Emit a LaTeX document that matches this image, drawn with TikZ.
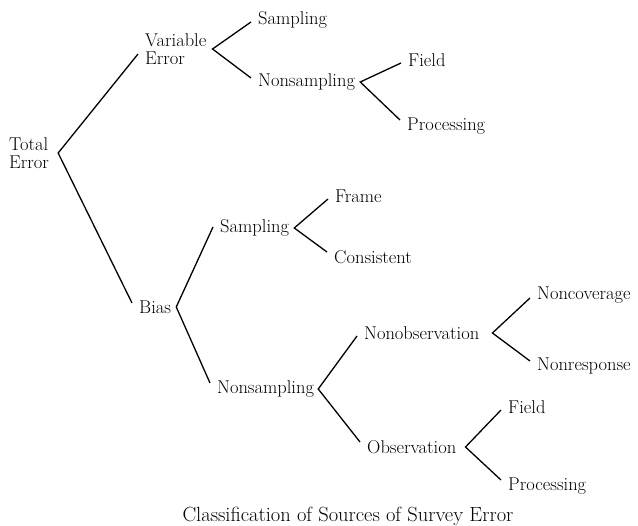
\documentclass[tikz,border=0pt]{standalone}
\begin{document}
\begin{tikzpicture}[x=1pt,y=-1pt,
  lbl/.style={anchor=west,inner sep=0pt,font=\fontsize{18.5}{18}\selectfont},
  br/.style={line width=1.3pt},
  vx/.style={xshift=#1},
  vx/.default=5pt,
  en/.style={xshift=-7pt,yshift=#1}]
\useasboundingbox (0,0) rectangle (638,526);
\node[lbl,align=left] (tot) at (9,153) {Total\\Error};
\node[lbl,align=left] (var) at (145,49) {Variable\\Error};
\node[lbl] (vs) at (258,20) {Sampling};
\node[lbl] (vn) at (258,82) {Nonsampling};
\node[lbl] (vnf) at (408,60) {Field};
\node[lbl] (vnp) at (407,126) {Processing};
\node[lbl] (bias) at (139,307) {Bias};
\node[lbl] (bs) at (220,228) {Sampling};
\node[lbl] (bsf) at (335,196) {Frame};
\node[lbl] (bsc) at (334,257) {Consistent};
\node[lbl] (bn) at (217,389) {Nonsampling};
\node[lbl] (bno) at (364,333) {Nonobservation};
\node[lbl] (cov) at (537,295) {Noncoverage};
\node[lbl] (resp) at (537,366) {Nonresponse};
\node[lbl] (bo) at (367,447) {Observation};
\node[lbl] (bof) at (508,407) {Field};
\node[lbl] (bop) at (508,486) {Processing};
\node[inner sep=0pt,font=\fontsize{20.5}{22}\selectfont] (cap) at (348,516) {Classification of Sources of Survey Error};
\draw[br] ([en=-5pt]var.west) -- ([vx=9pt]tot.east) -- ([en=4pt]bias.west);
\draw[br] ([en=-2pt]vs.west) -- ([vx=6pt]var.east) -- ([en=4pt]vn.west);
\draw[br] ([en=-3pt]vnf.west) -- ([vx]vn.east) -- ([en=6pt]vnp.west);
\draw[br] ([en=1pt]bs.west) -- ([vx]bias.east) -- ([en=6pt]bn.west);
\draw[br] ([en=-3pt]bsf.west) -- ([vx]bs.east) -- ([en=5pt]bsc.west);
\draw[br] ([en=-3pt]bno.west) -- ([vx=4pt]bn.east) -- ([en=5pt]bo.west);
\draw[br] ([en=-3pt]cov.west) -- ([vx=13pt]bno.east) -- ([en=5pt]resp.west);
\draw[br] ([en=-3pt]bof.west) -- ([vx=9pt]bo.east) -- ([en=6pt]bop.west);
\end{tikzpicture}
\end{document}
